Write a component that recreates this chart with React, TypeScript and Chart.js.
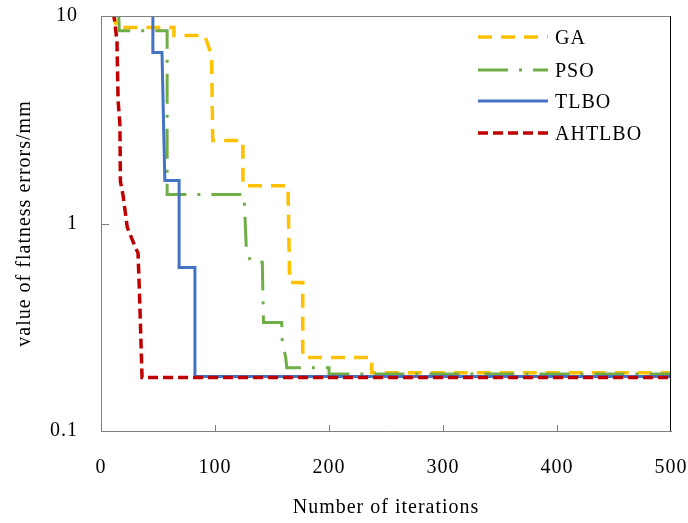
import React, { useEffect, useRef } from 'react';
import { Chart, registerables } from 'chart.js';

Chart.register(...registerables);

// ---- data ----
const seriesNames = ['GA', 'PSO', 'TLBO', 'AHTLBO'];
const xTicks = [0, 100, 200, 300, 400, 500];
const yTicks = [0.1, 1, 10];

const gaIter = [10, 14, 64, 64, 91, 97, 98, 124.5, 124.5, 164, 165.5, 177, 177, 237.5, 237.5, 500];
const gaValue = [10.5, 8.8, 8.8, 8.06, 8.06, 6.45, 2.51, 2.51, 1.52, 1.52, 0.52, 0.52, 0.226, 0.226, 0.191, 0.191];

const psoIter = [15.5, 16, 58, 58, 125.5, 127.5, 131, 141.5, 142.5, 158.5, 159, 162, 163, 200, 200, 500];
const psoValue = [10.5, 8.5, 8.5, 1.38, 1.38, 0.75, 0.66, 0.65, 0.333, 0.333, 0.27, 0.226, 0.202, 0.202, 0.188, 0.188];

const tlboIter = [45.5, 45.5, 53.5, 56, 68.5, 68.5, 82.4, 82.4, 500];
const tlboValue = [12, 6.67, 6.67, 1.61, 1.61, 0.614, 0.614, 0.183, 0.183];

const ahIter = [11, 14, 15, 16.6, 17, 19.5, 23, 30, 32.5, 34, 36, 500];
const ahValue = [10.5, 7.6, 3.9, 3.0, 1.6, 1.35, 0.96, 0.77, 0.72, 0.42, 0.181, 0.181];

const colors = ['#FFC000', '#70AD47', '#4472C4', '#C00000'];
const dashes = [[14, 9], [30, 11, 3, 11], [], [10, 5]];
const widths = [3.5, 3, 3, 3.5];

const FONT = "'Liberation Serif', 'Times New Roman', serif";

const toPoints = (xs: number[], ys: number[]) => xs.map((x, i) => ({ x, y: ys[i] }));

const decor = {
  id: 'decor',
  beforeLayout(chart: any) {
    chart.ctx.letterSpacing = '1px';
  },
  beforeDraw(chart: any) {
    chart.ctx.letterSpacing = '1px';
  },
  afterDraw(chart: any) {
    const { ctx, chartArea: a, scales } = chart;
    ctx.save();
    ctx.lineWidth = 1;
    ctx.setLineDash([]);
    // top frame
    ctx.strokeStyle = '#7f7f7f';
    ctx.beginPath();
    ctx.moveTo(a.left, a.top + 0.5);
    ctx.lineTo(a.right, a.top + 0.5);
    ctx.stroke();
    // right frame
    ctx.strokeStyle = '#000';
    ctx.beginPath();
    ctx.moveTo(a.right - 0.5, a.top);
    ctx.lineTo(a.right - 0.5, a.bottom);
    ctx.stroke();
    // inward ticks
    ctx.strokeStyle = '#7f7f7f';
    ctx.beginPath();
    xTicks.slice(1, -1).forEach((v) => {
      const px = Math.round(scales.x.getPixelForValue(v)) + 0.5;
      ctx.moveTo(px, a.bottom);
      ctx.lineTo(px, a.bottom - 6);
    });
    yTicks.slice(1, -1).forEach((v) => {
      const py = Math.round(scales.y.getPixelForValue(v)) + 0.5;
      ctx.moveTo(a.left, py);
      ctx.lineTo(a.left + 8, py);
    });
    ctx.stroke();
    // legend
    const lx0 = a.left + 377;
    const lx1 = a.left + 447;
    const rowY = [37, 70, 101, 133];
    ctx.font = `20px ${FONT}`;
    ctx.fillStyle = '#000';
    ctx.textAlign = 'left';
    ctx.textBaseline = 'middle';
    ctx.letterSpacing = '1px';
    chart.data.datasets.forEach((ds: any, i: number) => {
      const y = rowY[i];
      ctx.strokeStyle = ds.borderColor;
      ctx.lineWidth = ds.borderWidth;
      ctx.setLineDash(ds.borderDash || []);
      ctx.lineCap = 'butt';
      ctx.beginPath();
      ctx.moveTo(lx0, y);
      ctx.lineTo(lx1, y);
      ctx.stroke();
      ctx.fillText(ds.label, lx1 + 7, y + 2);
    });
    ctx.restore();
  },
};

export default function App() {
  const ref = useRef<HTMLCanvasElement | null>(null);
  useEffect(() => {
    if (!ref.current) return;
    const series = [
      toPoints(gaIter, gaValue),
      toPoints(psoIter, psoValue),
      toPoints(tlboIter, tlboValue),
      toPoints(ahIter, ahValue),
    ];
    const chart = new Chart(ref.current, {
      type: 'line',
      data: {
        datasets: series.map((pts, i) => ({
          label: seriesNames[i],
          data: pts,
          borderColor: colors[i],
          backgroundColor: colors[i],
          borderWidth: widths[i],
          borderDash: dashes[i],
          borderCapStyle: 'butt',
          borderJoinStyle: 'miter',
          pointRadius: 0,
          tension: 0,
          fill: false,
          clip: 0,
          order: 4 - i,
        })),
      },
      options: {
        responsive: false,
        animation: false,
        parsing: false,
        layout: { padding: { top: 16, right: 17, left: 0, bottom: 0 } },
        plugins: { legend: { display: false }, tooltip: { enabled: false } },
        scales: {
          x: {
            type: 'linear',
            min: 0,
            max: 500,
            afterBuildTicks: (s: any) => {
              s.ticks = xTicks.map((v) => ({ value: v }));
            },
            afterFit: (s: any) => {
              s.height = 92;
              s.paddingLeft = 0;
              s.paddingRight = 0;
            },
            grid: { display: false, drawTicks: false },
            border: { display: true, color: '#7f7f7f', width: 1 },
            ticks: {
              padding: 25,
              maxRotation: 0,
              color: '#000',
              font: { family: FONT, size: 20 },
            },
            title: {
              display: true,
              text: 'Number of iterations',
              color: '#000',
              font: { family: FONT, size: 20 },
              padding: { top: 0, bottom: 3 },
            },
          },
          y: {
            type: 'logarithmic',
            min: 0.1,
            max: 10,
            afterBuildTicks: (s: any) => {
              s.ticks = yTicks.map((v) => ({ value: v }));
            },
            afterFit: (s: any) => {
              s.width = 101;
              s.paddingTop = 0;
              s.paddingBottom = 0;
            },
            grid: { display: false, drawTicks: false },
            border: { display: true, color: '#7f7f7f', width: 1 },
            ticks: {
              padding: 23,
              color: '#000',
              font: { family: FONT, size: 20 },
              callback: (v: any) => (Number(v) === 0.1 ? '0.1' : String(Number(v))),
            },
            title: {
              display: true,
              text: 'value of flatness errors/mm',
              color: '#000',
              font: { family: FONT, size: 20 },
              padding: { top: 13, bottom: 0 },
            },
          },
        },
      },
      plugins: [decor],
    } as any);
    return () => chart.destroy();
  }, []);
  return (
    <div style={{ position: 'absolute', left: 0, top: 0, width: 688, height: 523, background: '#fff' }}>
      <canvas ref={ref} width={688} height={523} style={{ display: 'block' }} />
    </div>
  );
}
